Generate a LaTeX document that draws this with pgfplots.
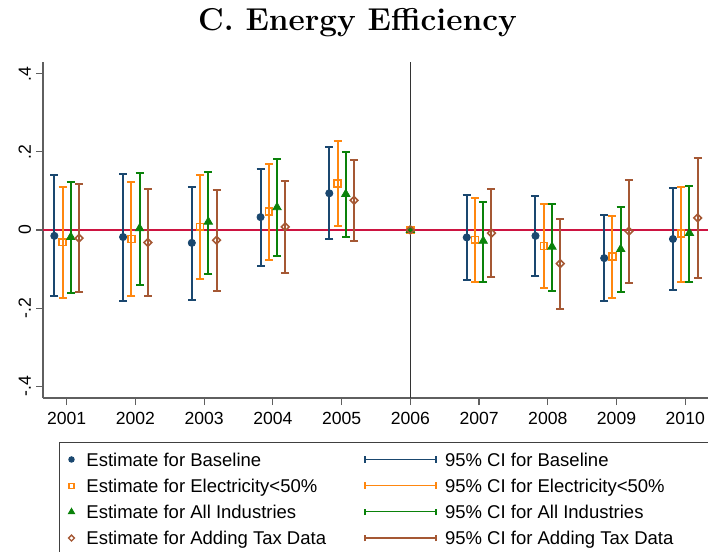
\documentclass[border=0pt]{standalone}
\usepackage{fontspec}
\setmainfont{Liberation Sans}
\newfontfamily\lmfont{Latin Modern Roman}
\usepackage{pgfplots}
\usepackage{pgfplotstable}
\pgfplotsset{compat=1.18}

\definecolor{cnavy}{RGB}{26,71,111}
\definecolor{corange}{RGB}{255,135,15}
\definecolor{cgreen}{RGB}{10,130,10}
\definecolor{cbrown}{RGB}{165,88,52}
\definecolor{czero}{RGB}{205,20,65}
\definecolor{axgray}{RGB}{95,95,95}

\newcommand\tickfont{\fontsize{8.8}{10}\selectfont}
\newcommand\legfont{\fontsize{9.25}{11}\selectfont}

% year, estimate, lower and upper end of the 95% CI
\pgfplotstableread{
year y lo hi
2001 -0.015 -0.168 0.142
2002 -0.018 -0.181 0.144
2003 -0.033 -0.178 0.111
2004 0.033 -0.091 0.156
2005 0.094 -0.022 0.212
2007 -0.019 -0.128 0.090
2008 -0.015 -0.117 0.088
2009 -0.072 -0.183 0.039
2010 -0.023 -0.153 0.107
}\tabB
\pgfplotstableread{
year y lo hi
2001 -0.031 -0.174 0.110
2002 -0.023 -0.169 0.124
2003 0.008 -0.125 0.140
2004 0.047 -0.077 0.169
2005 0.119 0.010 0.228
2007 -0.025 -0.133 0.082
2008 -0.041 -0.148 0.067
2009 -0.068 -0.173 0.036
2010 -0.009 -0.132 0.111
}\tabE
\pgfplotstableread{
year y lo hi
2001 -0.018 -0.162 0.122
2002 0.004 -0.140 0.146
2003 0.021 -0.113 0.149
2004 0.058 -0.067 0.182
2005 0.092 -0.019 0.199
2007 -0.028 -0.134 0.072
2008 -0.043 -0.155 0.067
2009 -0.049 -0.159 0.058
2010 -0.008 -0.133 0.113
}\tabA
\pgfplotstableread{
year y lo hi
2001 -0.021 -0.159 0.117
2002 -0.032 -0.168 0.105
2003 -0.026 -0.155 0.103
2004 0.008 -0.111 0.125
2005 0.076 -0.028 0.180
2007 -0.008 -0.121 0.105
2008 -0.086 -0.201 0.028
2009 -0.003 -0.135 0.128
2010 0.031 -0.122 0.185
}\tabT

\pgfplotsset{
  est/.style={only marks, forget plot,
    error bars/y dir=both, error bars/y explicit,
    error bars/error bar style={line width=1pt},
    error bars/error mark options={rotate=90, line width=1pt, mark size=2pt}},
  /pgfplots/table/errt/.style={
    /pgfplots/table/x expr=\thisrow{year}+#1,
    /pgfplots/table/y=y,
    /pgfplots/table/y error plus expr=\thisrow{hi}-\thisrow{y},
    /pgfplots/table/y error minus expr=\thisrow{y}-\thisrow{lo}},
  estimg/.style={legend image code/.code={
    \path[draw=none, fill=none] (0pt,0pt) -- (13.65pt,0pt);
    \draw[##1, draw=none] plot coordinates {(6.15pt,0pt)};}},
  ciimg/.style={legend image code/.code={
    \path[draw=none, fill=none] (0pt,0pt) -- (40pt,0pt);
    \draw[##1] (0pt,0pt) -- (35.5pt,0pt);
    \draw[##1] (0pt,-1.65pt) -- (0pt,1.65pt);
    \draw[##1] (35.5pt,-1.65pt) -- (35.5pt,1.65pt);}},
}

\begin{document}
\begin{tikzpicture}
\path[use as bounding box] (0,0) rectangle (354pt,276pt);
\node[font=\lmfont\bfseries\fontsize{15.8}{18}\selectfont, anchor=base] at (178.75pt,260.5pt) {C. Energy Efficiency};
\begin{axis}[
  at={(21.5pt,77pt)}, anchor=south west,
  scale only axis, width=332.5pt, height=168pt,
  xmin=2000.655, xmax=2010.33, ymin=-0.43, ymax=0.43,
  axis x line*=bottom, axis y line*=left,
  axis line style={-, axgray, line width=0.6pt},
  tick align=outside, major tick length=3.5pt,
  tick style={axgray, line width=0.6pt},
  xtick={2001,...,2010},
  xticklabels={2001,2002,2003,2004,2005,2006,2007,2008,2009,2010},
  ytick={-0.4,-0.2,0,0.2,0.4},
  yticklabels={-.4,-.2,0,.2,.4},
  xticklabel style={font=\tickfont},
  yticklabel style={font=\tickfont, xshift=1pt, rotate=90, anchor=south},
  clip=false,
  legend columns=2,
  legend cell align=left,
  legend style={at={(0.0236,-0.130)}, anchor=north west,
    draw=black!75, line width=0.5pt, inner xsep=0pt, inner ysep=2.1pt,
    column sep=0pt, row sep=0pt, font=\legfont,
    nodes={inner sep=0pt, text height=9.85pt, text depth=3.25pt}},
]
\addplot[czero, line width=1pt, forget plot] coordinates {(2000.655,0) (2010.33,0)};
\addplot[black!80, line width=0.6pt, forget plot] coordinates {(2006,-0.43) (2006,0.43)};

\addplot[est, cnavy, mark=*, mark size=1.8pt] table[errt=-0.18] {\tabB};
\addplot[est, corange, mark=square, mark size=1.7pt, mark options={line width=0.8pt, fill=white}] table[errt=-0.06] {\tabE};
\addplot[est, cgreen, mark=triangle*, mark size=2.4pt] table[errt=0.06] {\tabA};
\addplot[est, cbrown, mark=square, mark size=1.35pt, mark options={rotate=45, line width=0.8pt, fill=white}] table[errt=0.18] {\tabT};

% reference year 2006
\addplot[only marks, forget plot, cnavy, mark=*, mark size=1.8pt] coordinates {(2006,0)};
\addplot[only marks, forget plot, corange, mark=square, mark size=1.7pt, mark options={line width=0.8pt, fill=white}] coordinates {(2006,0)};
\addplot[only marks, forget plot, cgreen, mark=triangle*, mark size=2.4pt] coordinates {(2006,0)};
\addplot[only marks, forget plot, cbrown, mark=square, mark size=1.35pt, mark options={rotate=45, line width=0.8pt}] coordinates {(2006,0)};

\addlegendimage{estimg, cnavy, mark=*, mark size=1.35pt}
\addlegendentry{\makebox[139pt][l]{Estimate for Baseline}}
\addlegendimage{ciimg, cnavy, line width=0.6pt}
\addlegendentry{\makebox[131.5pt][l]{95\% CI for Baseline}}
\addlegendimage{estimg, corange, mark=square, mark size=1.25pt, mark options={line width=0.65pt, fill=white}}
\addlegendentry{\makebox[139pt][l]{Estimate for Electricity<50\%}}
\addlegendimage{ciimg, corange, line width=0.6pt}
\addlegendentry{\makebox[131.5pt][l]{95\% CI for Electricity<50\%}}
\addlegendimage{estimg, cgreen, mark=triangle*, mark size=1.7pt}
\addlegendentry{\makebox[139pt][l]{Estimate for All Industries}}
\addlegendimage{ciimg, cgreen, line width=0.6pt}
\addlegendentry{\makebox[131.5pt][l]{95\% CI for All Industries}}
\addlegendimage{estimg, cbrown, mark=square, mark size=1.05pt, mark options={rotate=45, line width=0.65pt, fill=white}}
\addlegendentry{\makebox[139pt][l]{Estimate for Adding Tax Data}}
\addlegendimage{ciimg, cbrown, line width=0.6pt}
\addlegendentry{\makebox[131.5pt][l]{95\% CI for Adding Tax Data}}
\end{axis}
\end{tikzpicture}
\end{document}
